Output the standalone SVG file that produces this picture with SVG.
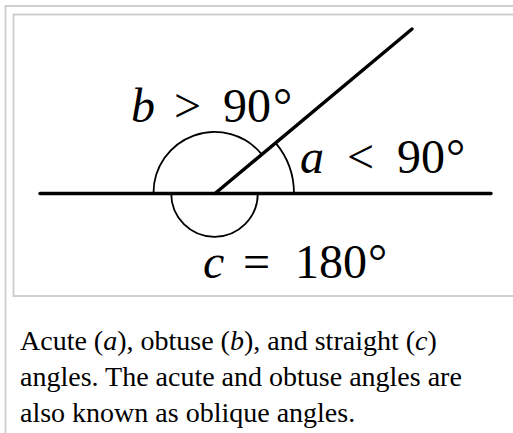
<svg xmlns="http://www.w3.org/2000/svg" width="513" height="433" viewBox="0 0 513 433">
<style>
.frame{fill:none;stroke:#cfcfcf;stroke-width:2}
.thick{stroke:#000;stroke-width:3.4;stroke-linecap:round;fill:none}
.arc{stroke:#000;stroke-width:1.8;fill:none}
.math{font-family:"Liberation Serif",serif;font-size:48px;fill:#000}
.var{font-style:italic}
.cap{font-family:"Liberation Serif",serif;font-size:28px;fill:#000}
</style>
<rect width="513" height="433" fill="#fff"/>
<g id="frame">
<path class="frame" d="M5.5,433 V6 H513"/>
<path class="frame" d="M514,296 H13.5 V14.5 H514"/>
</g>
<g id="connectors">
<line class="thick" x1="40" y1="193.5" x2="491" y2="193.5"/>
<line class="thick" x1="215" y1="193.5" x2="412" y2="29"/>
<path class="arc" d="M294,193.5 A79,79 0 0 0 275.6,142.8"/>
<path class="arc" d="M261.8,154.4 A61,61 0 0 0 153.5,193.5"/>
<path class="arc" d="M171.2,193.5 A43.3,43.3 0 0 0 257.8,193.5"/>
</g>
<g id="label-b">
<text class="math" y="121.5"><tspan class="var" x="131">b</tspan><tspan x="174">&gt;</tspan><tspan x="223">90</tspan><tspan x="273">°</tspan></text>
</g>
<g id="label-a">
<text class="math" y="172.5"><tspan class="var" x="300">a</tspan><tspan x="347">&lt;</tspan><tspan x="397">90</tspan><tspan x="446">°</tspan></text>
</g>
<g id="label-c">
<text class="math" y="277.5"><tspan class="var" x="203">c</tspan><tspan x="243">=</tspan><tspan x="295">180</tspan><tspan x="368">°</tspan></text>
</g>
<g id="caption">
<text class="cap" x="20" y="350">Acute (<tspan font-style="italic">a</tspan>), obtuse (<tspan font-style="italic">b</tspan>), and straight (<tspan font-style="italic">c</tspan>)</text>
<text class="cap" x="20" y="386">angles. The acute and obtuse angles are</text>
<text class="cap" x="20" y="421.5">also known as oblique angles.</text>
</g>
</svg>
